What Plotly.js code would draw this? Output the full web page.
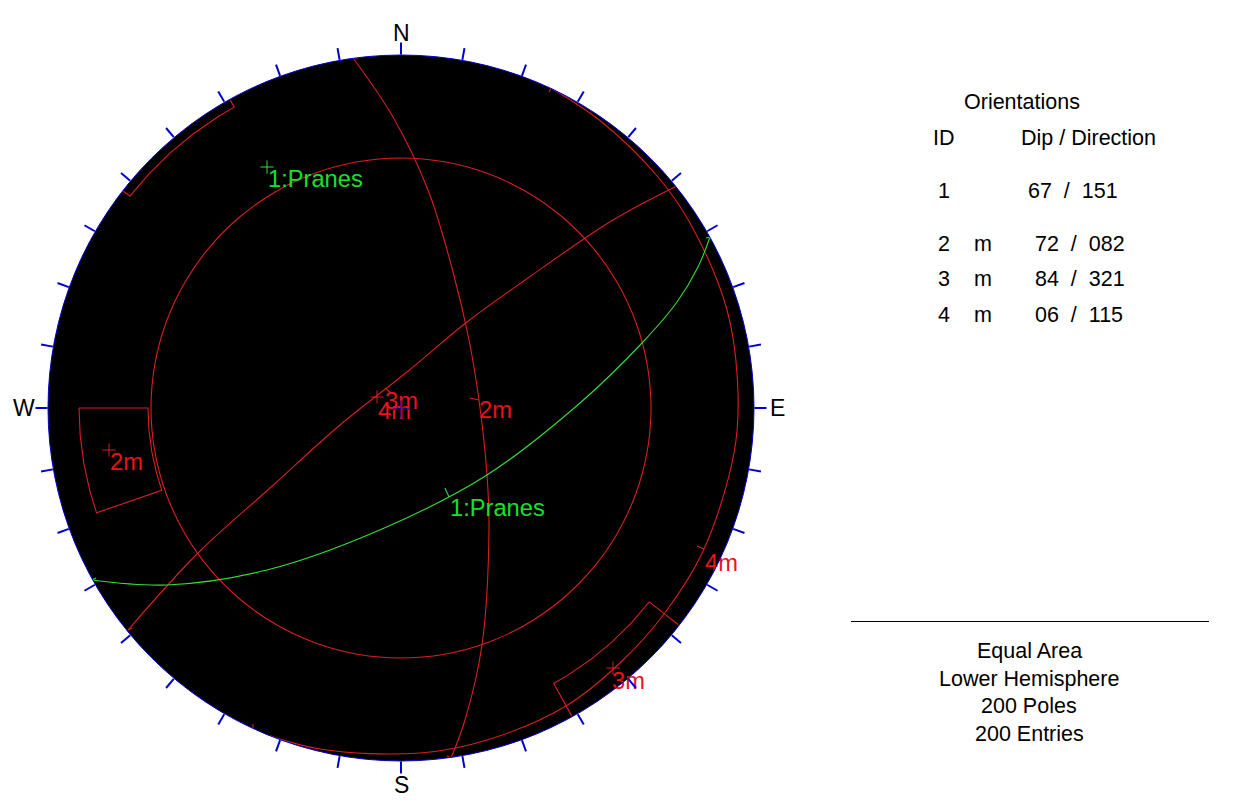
<!DOCTYPE html>
<html>
<head>
<meta charset="utf-8">
<script src="https://cdn.plot.ly/plotly-3.0.1.min.js"></script>
<style>html,body{margin:0;padding:0;background:#fff}#chart{width:1233px;height:806px}</style>
</head>
<body>
<div id="chart"></div>
<script>
// Rim bearings (degrees) and compass points
const rimBearings = [0,10,20,30,40,50,60,70,80,90,100,110,120,130,140,150,160,170,180,190,200,210,220,230,240,250,260,270,280,290,300,310,320,330,340,350];
const compassLabels = ['N','E','S','W'];
const netRadius = 353;

// Traced great circles, east / north net coordinates
const plane1East  = [309,297,276,241,179,86,-19,-134,-234,-309];
const plane1North = [171,141,106,65,5,-67,-121,-162,-177,-172];
const plane2East  = [-48,-8,27,51,68,78,86,88,81,64,50];
const plane2North = [350,291,218,140,68,8,-67,-121,-237,-312,-350];
const plane3East  = [276,212,127,66,6,-61,-131,-203,-273];
const plane3North = [222,188,130,86,36,-17,-80,-145,-222];
const plane4East  = [150,202,257,289,326,337,333,303,263,220,165,86,19,-81,-148];
const plane4North = [320,285,231,185,98,15,-45,-141,-206,-254,-298,-332,-345,-341,-322];

// Dip-direction and end ticks on the planes
const redTickEast  = [78,69,null,-16,-10,null,303,296,null,150,148,null,-148,-148,null,-48,-43,null,50,46,null,-273,-269];
const redTickNorth = [8,10,null,20,15,null,-141,-138,null,320,316,null,-322,-316,null,350,350,null,-350,-348,null,-222,-220];
const greenTickEast  = [48,44,null,-309,-305,null,309,305];
const greenTickNorth = [-89,-80,null,-172,-170,null,171,170];

// Ring drawn around the net centre
const ringBearings = [0,10,20,30,40,50,60,70,80,90,100,110,120,130,140,150,160,170,180,190,200,210,220,230,240,250,260,270,280,290,300,310,320,330,340,350,360];
const ringRadius = [250,250,250,250,250,250,250,250,250,250,250,250,250,250,250,250,250,250,250,250,250,250,250,250,250,250,250,250,250,250,250,250,250,250,250,250,250];

// Mean set windows, bearing / radius
const window2Bearing = [270,265,260,255,251,251,255,260,265,270,270];
const window2Radius  = [322,322,322,322,322,253,253,253,253,253,322];
const window3Bearing = [128,128,133,138,143,148,151,151];
const window3Radius  = [352,315,315,315,315,315,315,352];
const window3bBearing = [308,308,313,318,323,328,331,331];
const window3bRadius  = [352,344,344,344,344,344,344,352];

// Poles and labels
const greenPoleEast = [-134], greenPoleNorth = [241];
const redPoleEast = [-292,212,-24], redPoleNorth = [-42,-260,11];
const centreEast = [0], centreNorth = [-1];
const greenLabels = ['1:Pranes','1:Pranes'];
const greenLabelEast = [-133,49], greenLabelNorth = [227,-102];
const redLabels = ['2m','3m','3m','4m','2m','4m'];
const redLabelEast = [-291,211,-16,-23,78,304], redLabelNorth = [-56,-275,5,-5,-4,-157];

// Table
const rowIds = ['1','2','3','4'];
const rowFlags = ['','m','m','m'];
const rowDips = ['67','72','84','06'];
const rowDirs = ['151','082','321','115'];
const footerLines = ['Equal Area','Lower Hemisphere','200 Poles','200 Entries'];

const FONT = '"Liberation Sans", Arial, sans-serif';
const W = 1233, H = 806;
const RED = '#d8201f', GREEN = '#35dc3a', TXT_RED = '#f0101c', TXT_GREEN = '#16e02e', BLUE = '#0000cc';
const LW = 1.1;

function toPolar(e, n) {
  const r = [], theta = [];
  e.forEach((v, i) => {
    if (v === null) { r.push(null); theta.push(null); return; }
    r.push(Math.hypot(v, n[i]));
    theta.push((Math.atan2(v, n[i]) * 180 / Math.PI + 360) % 360);
  });
  return {r, theta};
}
function lineTrace(e, n, color, smooth) {
  const line = smooth ? {color, width:LW, shape:'spline', smoothing:1} : {color, width:LW};
  return Object.assign({type:'scatterpolar', mode:'lines', line, connectgaps:false, hoverinfo:'skip', cliponaxis:false}, toPolar(e, n));
}
function polarLine(theta, r, color, smooth) {
  const line = smooth ? {color, width:LW, shape:'spline', smoothing:1} : {color, width:LW};
  return {type:'scatterpolar', mode:'lines', theta, r, line, hoverinfo:'skip', cliponaxis:false};
}
function poleTrace(e, n, color, size) {
  return Object.assign({type:'scatterpolar', mode:'markers', marker:{symbol:'cross-thin', size, line:{color, width:1}}, hoverinfo:'skip', cliponaxis:false}, toPolar(e, n));
}
function labelTrace(e, n, text, color) {
  return Object.assign({type:'scatterpolar', mode:'text', text, textposition:'middle right', textfont:{family:FONT, size:23.7, color}, hoverinfo:'skip', cliponaxis:false}, toPolar(e, n));
}

const data = [
  polarLine(ringBearings, ringRadius, RED, true),
  polarLine(window2Bearing, window2Radius, RED),
  polarLine(window3Bearing, window3Radius, RED),
  polarLine(window3bBearing, window3bRadius, RED),
  lineTrace(plane2East, plane2North, RED, true),
  lineTrace(plane3East, plane3North, RED, true),
  lineTrace(plane4East, plane4North, RED, true),
  lineTrace(redTickEast, redTickNorth, RED),
  lineTrace(plane1East, plane1North, GREEN, true),
  lineTrace(greenTickEast, greenTickNorth, GREEN),
  poleTrace(greenPoleEast, greenPoleNorth, GREEN, 9.5),
  poleTrace(redPoleEast, redPoleNorth, RED, 9.5),
  labelTrace(greenLabelEast, greenLabelNorth, greenLabels, TXT_GREEN),
  labelTrace(redLabelEast, redLabelNorth, redLabels, TXT_RED),
  poleTrace(centreEast, centreNorth, BLUE, 12)
];

function note(text, x, y, anchor, size) {
  return {text, x:x/W, y:1-y/H, xref:'paper', yref:'paper', xanchor:anchor||'left', yanchor:'middle', showarrow:false, borderpad:0,
          font:{family:FONT, size:size||21.5, color:'#000'}};
}
const NB = '\u00A0';
const annotations = [
  note('Orientations', 963, 102),
  note('ID', 932, 138),
  note('Dip / Direction', 1020, 138)
];
const compassX = [401,777,401,24], compassY = [33,408,785,408];
compassLabels.forEach((t, i) => annotations.push(note(t, compassX[i], compassY[i], 'center', 23)));
const rowY = [191,244,279,315];
const rowDipX = [1027,1034,1034,1034];
rowIds.forEach((id, i) => {
  annotations.push(note(id, 937, rowY[i]));
  if (rowFlags[i]) annotations.push(note(rowFlags[i], 973, rowY[i]));
  annotations.push(note(rowDips[i] + NB + NB + '/' + NB + NB + rowDirs[i], rowDipX[i], rowY[i]));
});
const footerY = [651,679,706,734];
footerLines.forEach((t, i) => annotations.push(note(t, 1029, footerY[i], 'center')));

const layout = {
  width: W, height: H,
  margin: {l:0, r:0, t:0, b:0, pad:0},
  paper_bgcolor: '#fff',
  showlegend: false,
  font: {family: FONT},
  polar: {
    domain: {x:[48/W, 754/W], y:[1-761/H, 1-55/H]},
    bgcolor: '#000',
    sector: [0,360],
    radialaxis: {visible:false, range:[0, netRadius]},
    angularaxis: {
      direction:'clockwise', rotation:90,
      tickmode:'array', tickvals:rimBearings, showticklabels:false,
      ticks:'outside', ticklen:12, tickwidth:2, tickcolor:BLUE,
      linecolor:BLUE, linewidth:1, showline:true, showgrid:false
    }
  },
  shapes: [{type:'line', xref:'paper', yref:'paper', x0:851/W, x1:1209/W, y0:1-621.5/H, y1:1-621.5/H, line:{color:'#000', width:1}}],
  annotations
};
Plotly.newPlot('chart', data, layout, {displayModeBar:false, staticPlot:true});
</script>
</body>
</html>
